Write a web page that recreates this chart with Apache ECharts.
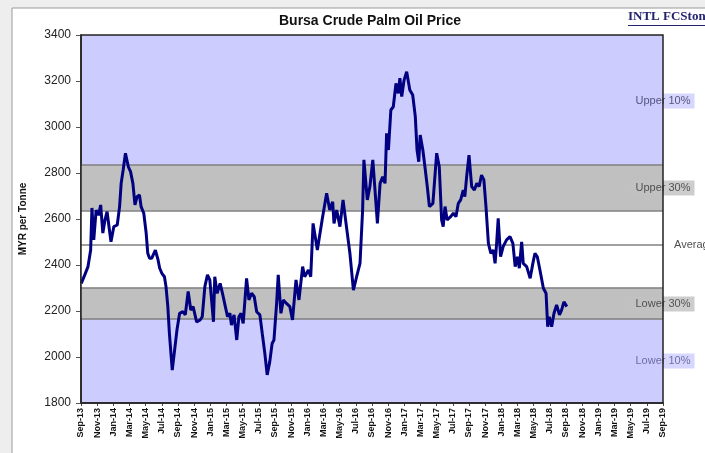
<!DOCTYPE html>
<html>
<head>
<meta charset="utf-8">
<script src="https://cdn.jsdelivr.net/npm/echarts@6/dist/echarts.min.js"></script>
<style>
html,body{margin:0;padding:0;background:#eeeeee;}
#c{width:705px;height:453px;}
</style>
</head>
<body>
<div id="c"></div>
<script>
// ---- data ----
const dates = ['2013-09-02','2013-09-15','2013-09-27','2013-10-07','2013-10-12','2013-10-19','2013-10-28','2013-11-06','2013-11-14','2013-11-22','2013-11-30','2013-12-08','2013-12-17','2013-12-23',
'2014-01-03','2014-01-16','2014-01-25','2014-01-31','2014-02-07','2014-02-15','2014-02-25','2014-03-05','2014-03-14','2014-03-22','2014-03-30','2014-04-08','2014-04-14','2014-04-24','2014-05-03','2014-05-09','2014-05-16','2014-05-24','2014-06-07','2014-06-17','2014-06-23','2014-07-01','2014-07-11','2014-07-17','2014-07-24','2014-07-30','2014-08-06','2014-08-10','2014-08-19','2014-08-28','2014-09-07','2014-09-19','2014-09-28','2014-10-09','2014-10-19','2014-10-28','2014-11-10','2014-11-23','2014-12-01','2014-12-11','2014-12-21','2014-12-30',
'2015-01-08','2015-01-13','2015-01-18','2015-01-27','2015-02-07','2015-02-15','2015-02-25','2015-03-05','2015-03-14','2015-03-20','2015-03-30','2015-04-09','2015-04-17','2015-04-25','2015-05-03','2015-05-16','2015-05-25','2015-06-04','2015-06-14','2015-06-23','2015-07-05','2015-07-14','2015-07-24','2015-08-02','2015-08-12','2015-08-21','2015-08-28','2015-09-07','2015-09-13','2015-09-23','2015-10-02','2015-10-14','2015-10-27','2015-11-06','2015-11-19','2015-11-30','2015-12-14','2015-12-22',
'2016-01-05','2016-01-14','2016-01-23','2016-02-08','2016-02-25','2016-03-13','2016-03-25','2016-04-05','2016-04-10','2016-04-20','2016-05-02','2016-05-14','2016-05-27','2016-06-09','2016-06-22','2016-07-04','2016-07-17','2016-07-27','2016-08-01','2016-08-14','2016-08-24','2016-09-04','2016-09-13','2016-09-21','2016-10-01','2016-10-11','2016-10-20','2016-10-26','2016-11-02','2016-11-11','2016-11-20','2016-11-30','2016-12-09','2016-12-15','2016-12-22','2016-12-31',
'2017-01-10','2017-01-16','2017-01-22','2017-02-02','2017-02-11','2017-02-17','2017-02-23','2017-02-28','2017-03-10','2017-03-18','2017-03-27','2017-04-04','2017-04-17','2017-04-21','2017-05-01','2017-05-11','2017-05-20','2017-05-26','2017-06-02','2017-06-10','2017-06-23','2017-07-03','2017-07-13','2017-07-22','2017-07-31','2017-08-10','2017-08-16','2017-08-23','2017-09-01','2017-09-11','2017-09-21','2017-09-30','2017-10-09','2017-10-18','2017-10-27','2017-11-04','2017-11-13','2017-11-22','2017-12-01','2017-12-08','2017-12-14','2017-12-20','2017-12-29',
'2018-01-08','2018-01-21','2018-02-03','2018-02-13','2018-02-21','2018-03-01','2018-03-08','2018-03-17','2018-03-23','2018-04-05','2018-04-18','2018-04-28','2018-05-06','2018-05-15','2018-05-25','2018-06-07','2018-06-17','2018-06-23','2018-06-29','2018-07-08','2018-07-17','2018-07-27','2018-08-07','2018-08-15','2018-08-24','2018-09-04'];
const prices = [2320,2357,2393,2465,2648,2509,2639,2617,2661,2539,2596,2632,2552,2501,
2567,2574,2654,2755,2813,2886,2827,2806,2755,2661,2697,2704,2654,2625,2538,2451,2429,2429,2465,2422,2386,2364,2349,2306,2219,2103,2001,1943,2030,2117,2190,2197,2183,2285,2204,2219,2153,2161,2175,2306,2357,2335,
2219,2153,2349,2277,2320,2277,2219,2175,2190,2139,2183,2074,2175,2190,2146,2342,2248,2277,2262,2197,2183,2103,2016,1922,1980,2059,2074,2233,2357,2190,2248,2233,2219,2161,2335,2248,2393,2349,
2378,2349,2581,2465,2596,2712,2639,2675,2581,2639,2567,2683,2567,2451,2291,2349,2407,2639,2857,2683,2741,2857,2712,2581,2755,2784,2755,2973,2900,3074,3088,3190,3146,3212,3132,3204,
3240,3233,3161,3139,3045,2900,2849,2965,2900,2827,2741,2654,2668,2675,2886,2827,2596,2567,2654,2596,2610,2625,2610,2668,2683,2726,2697,2784,2878,2741,2726,2755,2741,2791,2770,2654,2494,2451,2465,2407,2494,2603,2436,
2480,2509,2523,2494,2393,2436,2386,2501,2407,2393,2342,2407,2451,2436,2378,2299,2277,2132,2175,2132,2190,2226,2183,2204,2240,2219];
const tickLabels = ['Sep-13','Nov-13','Jan-14','Mar-14','May-14','Jul-14','Sep-14','Nov-14','Jan-15','Mar-15','May-15','Jul-15','Sep-15','Nov-15','Jan-16','Mar-16','May-16','Jul-16','Sep-16','Nov-16','Jan-17','Mar-17','May-17','Jul-17','Sep-17','Nov-17','Jan-18','Mar-18','May-18','Jul-18','Sep-18','Nov-18','Jan-19','Mar-19','May-19','Jul-19','Sep-19'];
// band boundaries: lower 10%, lower 30%, average, upper 30%, upper 10%
const bandLevels = [2165, 2301, 2487, 2636, 2835];
const bandLabelNames = ['Upper 10%','Upper 30%','Average','Lower 30%','Lower 10%'];
const bandLabelValues = [3113, 2735, 2487, 2230, 1983];

// ---- helpers ----
function monthOffset(s){
  const [y,m,d] = s.split('-').map(Number);
  const dim = new Date(y, m, 0).getDate();
  return (y-2013)*12 + (m-9) + (d-1)/dim;
}
const xMax = (tickLabels.length-1)*2;
const lineData = dates.map((d,i)=>[monthOffset(d), prices[i]]);

const labelStyles = [
  {bg:'#ccccff', color:'#33335a', pos:'inside'},
  {bg:'#c0c0c0', color:'#333333', pos:'inside'},
  {bg:'transparent', color:'#222222', pos:'right'},
  {bg:'#c0c0c0', color:'#333333', pos:'inside'},
  {bg:'#ccccff', color:'#55558a', pos:'inside'}
];
const labelData = bandLabelNames.map((n,i)=>({
  name:n, value:[xMax, bandLabelValues[i]],
  label:{show:true, position:labelStyles[i].pos, distance:11, formatter:n,
    backgroundColor:labelStyles[i].bg, color:labelStyles[i].color,
    padding:labelStyles[i].pos==='inside'?[2,4,2,4]:0, fontSize:11, fontFamily:'Arial'}
}));

const gridBox = {left:81, right:42, top:35, bottom:50};

const chart = echarts.init(document.getElementById('c'), null, {renderer:'canvas'});
chart.setOption({
  animation:false,
  backgroundColor:'#eeeeee',
  graphic:[
    {type:'rect', z:-10, shape:{x:12,y:8,width:720,height:470}, style:{fill:'#ffffff', stroke:'#9a9a9a', lineWidth:1}},
    {type:'text', left:628, top:10, z:10, style:{text:'INTL FCStone', fill:'#23236e', font:'bold 13px "Liberation Serif", serif'}},
    {type:'line', z:10, shape:{x1:628,y1:25.5,x2:720,y2:25.5}, style:{stroke:'#23236e', lineWidth:1}}
  ],
  title:{
    text:'Bursa Crude Palm Oil Price', left:365, top:9, textAlign:'center',
    textStyle:{fontFamily:'Arial', fontSize:14, fontWeight:'bold', color:'#111'}
  },
  grid:[
    Object.assign({show:true, backgroundColor:'#ccccff', borderWidth:0}, gridBox),
    Object.assign({show:true, backgroundColor:'transparent', borderColor:'#222', borderWidth:1.5, z:50}, gridBox)
  ],
  xAxis:[{
    type:'value', min:0, max:xMax, interval:2, gridIndex:0,
    axisLine:{show:true, onZero:false, lineStyle:{color:'#222', width:1.5}},
    axisTick:{show:true, length:3, lineStyle:{color:'#444'}},
    splitLine:{show:false},
    axisLabel:{rotate:90, margin:5, fontSize:9, fontWeight:'bold', fontFamily:'Arial', color:'#111',
      formatter:(v)=>tickLabels[Math.round(v/2)] || ''}
  },{
    type:'value', gridIndex:1, min:0, max:1, show:false
  }],
  yAxis:[{
    type:'value', min:1800, max:3400, interval:200, gridIndex:0,
    name:'MYR per Tonne', nameLocation:'middle', nameGap:53,
    nameTextStyle:{fontFamily:'Arial', fontSize:10, fontWeight:'bold', color:'#111'},
    axisLine:{show:true, lineStyle:{color:'#222', width:1.5}},
    axisTick:{show:true, length:5, lineStyle:{color:'#555'}},
    splitLine:{show:false},
    axisLabel:{margin:10, fontSize:12, fontFamily:'Arial', color:'#222', formatter:(v)=>String(v)}
  },{
    type:'value', gridIndex:1, min:0, max:1, show:false
  }],
  series:[
    {
      type:'line', name:'CPO', data:lineData, showSymbol:false, symbol:'none',
      lineStyle:{color:'#000080', width:3}, z:5,
      markArea:{silent:true, z:1, data:[
        [{yAxis:bandLevels[0], itemStyle:{color:'#c0c0c0'}},{yAxis:bandLevels[1]}],
        [{yAxis:bandLevels[1], itemStyle:{color:'#ffffff'}},{yAxis:bandLevels[3]}],
        [{yAxis:bandLevels[3], itemStyle:{color:'#c0c0c0'}},{yAxis:bandLevels[4]}]
      ]},
      markLine:{silent:true, symbol:'none', z:2, label:{show:false},
        lineStyle:{color:'#808080', width:1.5, type:'solid'},
        data:bandLevels.map(v=>({yAxis:v}))}
    },
    {
      type:'scatter', name:'labels', symbolSize:0, data:labelData, z:30, silent:true
    }
  ]
});
</script>
</body>
</html>
